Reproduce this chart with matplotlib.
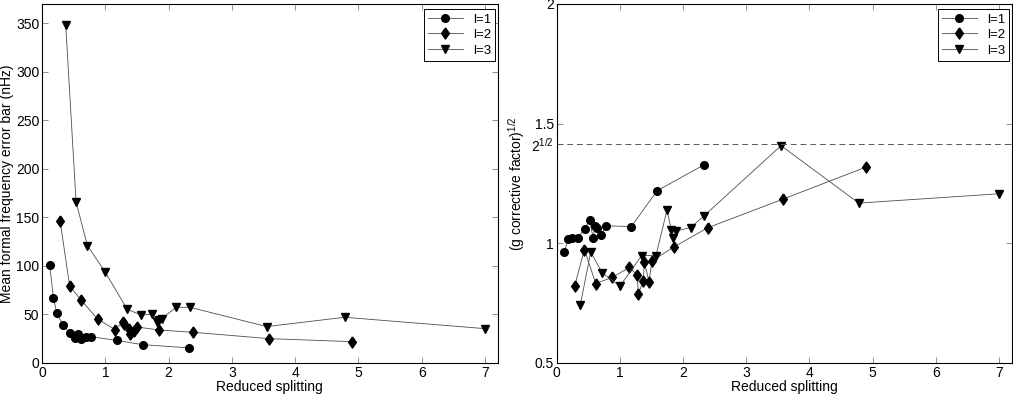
import numpy as np
import matplotlib
matplotlib.use("Agg")
import matplotlib.pyplot as plt

plt.rcParams['font.family'] = ['Liberation Sans', 'DejaVu Sans']
plt.rcParams['mathtext.fontset'] = 'custom'
plt.rcParams['mathtext.rm'] = 'Liberation Sans'
plt.rcParams['mathtext.it'] = 'Liberation Sans'
plt.rcParams['font.size'] = 10

# reduced splitting per degree
x1 = [0.12, 0.18, 0.235, 0.33, 0.44, 0.52, 0.575, 0.61, 0.63, 0.70, 0.78, 1.18, 1.59, 2.33]
x2 = [0.285, 0.437, 0.617, 0.88, 1.149, 1.275, 1.29, 1.37, 1.386, 1.46, 1.508, 1.85, 2.39, 3.585, 4.89]
x3 = [0.374, 0.538, 0.717, 1.0, 1.345, 1.57, 1.745, 1.813, 1.845, 1.89, 2.12, 2.336, 3.55, 4.78, 7.0]

# mean formal frequency error bar (nHz)
err1 = [101, 67, 51, 39.5, 30.5, 26, 29.6, 24.4, 26, 27, 27, 23.2, 18.9, 15.5]
err2 = [146.4, 79.4, 64.8, 45.2, 34.5, 42, 40, 35, 29.6, 32.5, 37, 34, 31.6, 25.1, 22]
err3 = [348.6, 165.7, 121, 93.5, 55.4, 49.3, 50.5, 42.6, 44, 45.7, 57.4, 57.4, 37.5, 47.1, 35.4]

# (g corrective factor)^1/2
g1 = [0.964, 1.017, 1.021, 1.024, 1.058, 1.097, 1.024, 1.074, 1.066, 1.033, 1.073, 1.070, 1.220, 1.328]
g2 = [0.823, 0.974, 0.832, 0.858, 0.899, 0.868, 0.787, 0.844, 0.922, 0.840, 0.927, 0.984, 1.065, 1.185, 1.318]
g3 = [0.744, 0.964, 0.877, 0.821, 0.949, 0.949, 1.139, 1.055, 1.022, 1.051, 1.066, 1.116, 1.408, 1.168, 1.207]

labels = ['l=1', 'l=2', 'l=3']
diamond = [(0, 1), (0.7, 0), (0, -1), (-0.7, 0), (0, 1)]
markers = ['o', diamond, 'v']
msizes = [5.5, 8, 6]

fig = plt.figure(figsize=(10.13, 3.98), dpi=100)
ax1 = fig.add_axes([0.0415, 0.088, 0.4498, 0.902])
ax2 = fig.add_axes([0.5496, 0.088, 0.4491, 0.902])


def draw(ax, xs, ys):
    for x, y, lab, m, ms in zip(xs, ys, labels, markers, msizes):
        ax.plot(x, y, color='0.3', lw=0.6, marker=m, ms=ms, mfc='k', mec='k',
                label=lab)
    ax.set_xlim(0, 7.2)
    ax.set_xticks(range(8))
    ax.tick_params(direction='in', top=True, right=True, length=4, width=0.6,
                   color='0.5', pad=2)
    for s in ax.spines.values():
        s.set_linewidth(0.8)
    ax.set_xlabel('Reduced splitting', labelpad=0)
    leg = ax.legend(loc='upper right', bbox_to_anchor=(0.995, 0.985),
                    fancybox=False, framealpha=1, fontsize=9.5,
                    edgecolor='k', borderpad=0.3, labelspacing=0.25,
                    handlelength=2.6, handletextpad=0.8, borderaxespad=0)
    leg.get_frame().set_linewidth(0.7)


draw(ax1, [x1, x2, x3], [err1, err2, err3])
ax1.set_ylim(0, 370)
ax1.set_yticks(range(0, 351, 50))
ax1.set_ylabel('Mean formal frequency error bar (nHz)', labelpad=1)

draw(ax2, [x1, x2, x3], [g1, g2, g3])
ax2.set_ylim(0.5, 2)
ax2.axhline(np.sqrt(2), color='0.35', lw=0.7, ls=(0, (6, 4)))
ax2.set_yticks([0.5, 1, np.sqrt(2), 1.5, 2])
ax2.set_yticklabels(['0.5', '1', '2$^{1/2}$', '1.5', '2'])
ax2.set_ylabel('(g corrective factor)$^{1/2}$', labelpad=3)

fig.savefig('out.png', dpi=100)
